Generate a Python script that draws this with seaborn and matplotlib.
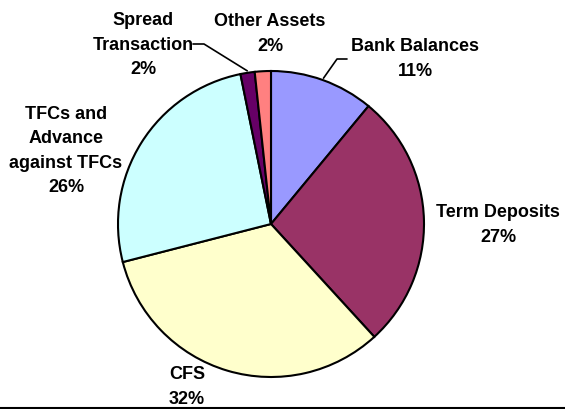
import matplotlib
matplotlib.use("Agg")
import matplotlib.pyplot as plt
import seaborn as sns
import numpy as np
from matplotlib.lines import Line2D

# ---- data ----
categories = ["Bank Balances", "Term Deposits", "CFS",
              "TFCs and\nAdvance\nagainst TFCs", "Spread\nTransaction", "Other Assets"]
values = [11.0, 27.2, 32.8, 25.8, 1.5, 1.7]
pct_labels = ["11%", "27%", "32%", "26%", "2%", "2%"]
colors = ["#9999FF", "#993366", "#FFFFCC", "#CCFFFF", "#660066", "#FF8080"]

sns.set_theme(style="white")
plt.rcParams["font.family"] = ["Liberation Sans", "DejaVu Sans"]

W, H = 565, 410
fig = plt.figure(figsize=(W / 100, H / 100), dpi=100)
ax = fig.add_axes([0, 0, 1, 1])

cx, cy, R = 271, H - 225, 153
palette = sns.color_palette(colors)
wedges, _ = ax.pie(values, colors=palette, startangle=90, counterclock=False,
                   center=(cx, cy), radius=R,
                   wedgeprops=dict(edgecolor="black", linewidth=1.5))
ax.set_xlim(0, W)
ax.set_ylim(0, H)
ax.set_aspect("equal")
ax.axis("off")

# label block centers (image px coords)
label_pos = [(415, 59), (498, 225), (187, 387), (66, 151), (143, 45), (270, 34)]
txt_kw = dict(fontsize=13, fontweight="bold", ha="center", va="center",
              linespacing=1.55, color="black")
for name, pct, (x, y) in zip(categories, pct_labels, label_pos):
    ax.text(x, H - y, f"{name}\n{pct}", **txt_kw)

# leader lines from wedge mid-angles
def edge_point(w, r_extra=2):
    th = np.deg2rad((w.theta1 + w.theta2) / 2)
    return cx + (R + r_extra) * np.cos(th), cy + (R + r_extra) * np.sin(th)

# Bank Balances
x0, y0 = edge_point(wedges[0])
ax.plot([x0, 337, 347], [y0, H - 60, H - 60], color="black", lw=1.2)
# Spread Transaction
x0, y0 = edge_point(wedges[4])
ax.plot([x0, 204, 193], [y0, H - 45, H - 45], color="black", lw=1.2)

# bottom border line
fig.add_artist(Line2D([0, 1], [0.6 / H, 0.6 / H], transform=fig.transFigure,
                      color="black", lw=1.5))

fig.savefig("out.png", dpi=100)
